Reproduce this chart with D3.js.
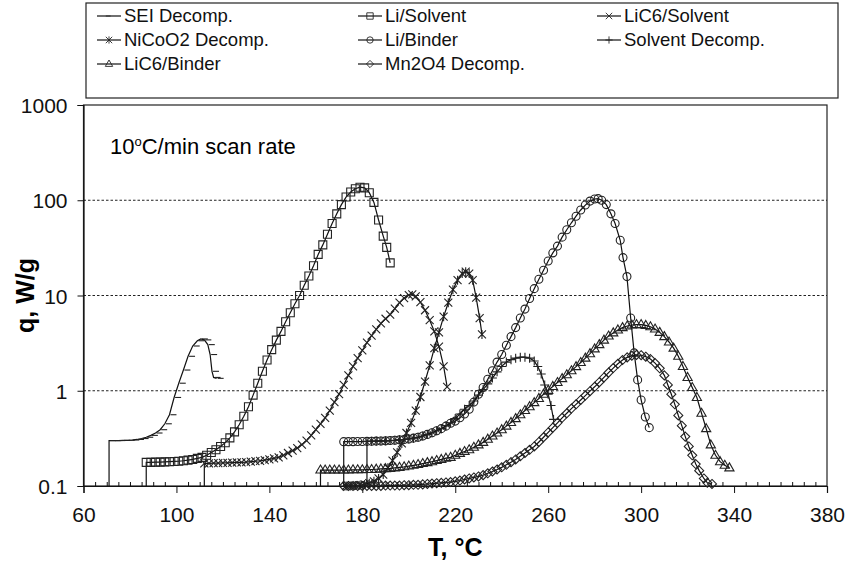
<!DOCTYPE html>
<html>
<head>
<meta charset="utf-8">
<script src="https://cdn.jsdelivr.net/npm/d3@7"></script>
<style>
  body { margin: 0; background: #fff; }
  svg { font-family: Arial, "Liberation Sans", sans-serif; }
</style>
</head>
<body>
<div id="chart"></div>
<script>
// ---- data (T in degC, q in W/g) ----
var seriesNames = ["SEI Decomp.", "Li/Solvent", "LiC6/Solvent", "NiCoO2 Decomp.",
  "Li/Binder", "Solvent Decomp.", "LiC6/Binder", "Mn2O4 Decomp."];

var xTicks = [60, 100, 140, 180, 220, 260, 300, 340, 380];
var yTicks = [0.1, 1, 10, 100, 1000];
var yTickLabels = ["0.1", "1", "10", "100", "1000"];

var seiT = [71, 73, 75, 77, 79, 81, 83, 85, 87, 89, 91, 93, 95, 97, 99, 101, 103, 105, 107, 109, 110.5, 112, 113.5, 114.5, 115.3, 116, 117.3];
var seiQ = [0.3, 0.3, 0.3, 0.301, 0.302, 0.304, 0.308, 0.315, 0.325, 0.34, 0.36, 0.39, 0.45, 0.56, 0.85, 1.2, 1.65, 2.3, 2.95, 3.35, 3.5, 3.42, 3.05, 2.4, 1.6, 1.38, 1.35];

var liSolvT = [87, 89, 91, 93, 95, 97, 99, 101, 103, 105, 107, 109, 111, 113, 115, 117, 119, 121, 123, 125, 127, 129, 131, 133, 135, 137, 139, 141, 143, 145, 147, 149, 151, 153, 155, 157, 159, 161, 163, 165, 167, 169, 171, 173, 175, 177, 179, 181, 183, 185, 187, 189, 190.5, 192];
var liSolvQ = [0.177, 0.177, 0.178, 0.178, 0.179, 0.18, 0.181, 0.182, 0.184, 0.187, 0.19, 0.195, 0.2, 0.21, 0.225, 0.24, 0.26, 0.285, 0.32, 0.37, 0.44, 0.54, 0.68, 0.9, 1.2, 1.6, 2.1, 2.7, 3.4, 4.2, 5.3, 6.6, 8.2, 10, 12.8, 16, 20.5, 27, 34, 44, 57, 72, 90, 108, 122, 132, 137, 135, 120, 95, 62, 42, 32, 22];

var lic6SolvT = [112, 114, 116, 118, 120, 122, 124, 126, 128, 130, 132, 134, 136, 138, 140, 142, 144, 146, 148, 150, 152, 154, 156, 158, 160, 162, 164, 166, 168, 170, 172, 174, 176, 178, 180, 182, 184, 186, 188, 190, 192, 194, 196, 198, 200, 201.5, 203, 205, 207, 209, 211, 213, 215, 216.5];
var lic6SolvQ = [0.173, 0.173, 0.174, 0.174, 0.175, 0.175, 0.176, 0.177, 0.177, 0.178, 0.18, 0.182, 0.184, 0.187, 0.19, 0.195, 0.2, 0.21, 0.222, 0.235, 0.25, 0.272, 0.3, 0.34, 0.39, 0.45, 0.52, 0.62, 0.76, 0.92, 1.15, 1.45, 1.8, 2.2, 2.65, 3.2, 3.8, 4.4, 5.1, 5.7, 6.3, 7.3, 8.4, 9.4, 10.1, 10.3, 9.8, 8.5, 7, 5.5, 4.2, 2.9, 1.8, 1.1];

var nicoT = [173, 175, 177, 179, 181, 183, 185, 187, 189, 191, 193, 195, 197, 199, 201, 203, 205, 207, 209, 211, 213, 215, 217, 219, 221, 223, 224.5, 226, 227.5, 229, 230.5, 231.5];
var nicoQ = [0.1, 0.1, 0.101, 0.102, 0.104, 0.107, 0.112, 0.12, 0.132, 0.155, 0.185, 0.225, 0.28, 0.36, 0.46, 0.62, 0.86, 1.25, 1.85, 2.8, 4.1, 6, 8.4, 11.5, 14.5, 17, 17.8, 17, 14.5, 9.5, 5.8, 3.9];

var liBindT = [172, 174, 176, 178, 180, 182, 184, 186, 188, 190, 192, 194, 196, 198, 200, 202, 204, 206, 208, 210, 212, 214, 216, 218, 220, 222, 224, 226, 228, 230, 232, 234, 236, 238, 240, 242, 244, 246, 248, 250, 252, 254, 256, 258, 260, 262, 264, 266, 268, 270, 272, 274, 276, 278, 280, 281.5, 283, 285, 287, 288.8, 291, 292.2, 293.9, 295.5, 297, 298.5, 300, 301.8, 303.5];
var liBindQ = [0.292, 0.292, 0.292, 0.293, 0.293, 0.294, 0.295, 0.296, 0.297, 0.298, 0.3, 0.302, 0.305, 0.308, 0.312, 0.318, 0.325, 0.335, 0.348, 0.362, 0.38, 0.4, 0.425, 0.455, 0.48, 0.52, 0.57, 0.64, 0.76, 0.92, 1.08, 1.32, 1.62, 2.0, 2.4, 3.0, 3.7, 4.6, 5.8, 7.2, 9.3, 11.8, 14.8, 18.4, 23, 28, 33, 41, 49, 58, 68, 79, 89, 98, 103, 104, 100, 90, 72, 57, 38, 25, 15.8, 5.8, 2.5, 1.3, 0.8, 0.53, 0.41];

var solvT = [182, 184, 186, 188, 190, 192, 194, 196, 198, 200, 202, 204, 206, 208, 210, 212, 214, 216, 218, 220, 222, 224, 226, 228, 230, 232, 234, 236, 238, 240, 242, 244, 246, 248, 250, 252, 254, 255.5, 257, 258.5, 260, 261.2, 262.3];
var solvQ = [0.294, 0.295, 0.296, 0.297, 0.298, 0.3, 0.302, 0.305, 0.308, 0.312, 0.318, 0.325, 0.335, 0.348, 0.362, 0.38, 0.4, 0.43, 0.46, 0.51, 0.57, 0.64, 0.7, 0.78, 0.9, 1.03, 1.18, 1.36, 1.58, 1.8, 2.0, 2.12, 2.2, 2.25, 2.25, 2.2, 2.05, 1.8, 1.5, 1.15, 0.92, 0.7, 0.5];

var lic6BindT = [162, 164, 166, 168, 170, 172, 174, 176, 178, 180, 182, 184, 186, 188, 190, 192, 194, 196, 198, 200, 202, 204, 206, 208, 210, 212, 214, 216, 218, 220, 222, 224, 226, 228, 230, 232, 234, 236, 238, 240, 242, 244, 246, 248, 250, 252, 254, 256, 258, 260, 262, 264, 266, 268, 270, 272, 274, 276, 278, 280, 282, 284, 286, 288, 290, 292, 294, 296, 298, 300, 302, 304, 306, 308, 310, 312, 314, 316, 318, 320, 322, 324, 326, 328, 330, 332, 334, 336, 338];
var lic6BindQ = [0.147, 0.147, 0.147, 0.147, 0.147, 0.147, 0.147, 0.148, 0.148, 0.148, 0.149, 0.149, 0.15, 0.151, 0.152, 0.153, 0.155, 0.157, 0.159, 0.162, 0.165, 0.168, 0.172, 0.176, 0.18, 0.185, 0.19, 0.196, 0.2, 0.21, 0.22, 0.23, 0.24, 0.255, 0.27, 0.287, 0.31, 0.335, 0.36, 0.39, 0.425, 0.465, 0.51, 0.56, 0.62, 0.68, 0.75, 0.83, 0.92, 1.01, 1.11, 1.22, 1.34, 1.47, 1.62, 1.79, 1.98, 2.2, 2.45, 2.75, 3.05, 3.4, 3.75, 4.05, 4.35, 4.6, 4.78, 4.9, 4.95, 4.95, 4.85, 4.7, 4.45, 4.1, 3.7, 3.25, 2.8, 2.3, 1.8, 1.38, 1.08, 0.85, 0.58, 0.4, 0.27, 0.21, 0.18, 0.165, 0.155];

var mnT = [172, 174, 176, 178, 180, 182, 184, 186, 188, 190, 192, 194, 196, 198, 200, 202, 204, 206, 208, 210, 212, 214, 216, 218, 220, 222, 224, 226, 228, 230, 232, 234, 236, 238, 240, 242, 244, 246, 248, 250, 252, 254, 256, 258, 260, 262, 264, 266, 268, 270, 272, 274, 276, 278, 280, 282, 284, 286, 288, 290, 292, 294, 296, 298, 300, 302, 304, 306, 308, 310, 311.5, 313, 314.5, 316, 317.5, 319, 320.5, 322, 323.5, 325, 327, 328.5, 330.5];
var mnQ = [0.1, 0.1, 0.1, 0.1, 0.1, 0.1, 0.1, 0.1, 0.1, 0.101, 0.101, 0.101, 0.101, 0.102, 0.102, 0.103, 0.103, 0.104, 0.105, 0.106, 0.107, 0.108, 0.109, 0.11, 0.112, 0.114, 0.117, 0.12, 0.123, 0.126, 0.13, 0.136, 0.142, 0.149, 0.157, 0.167, 0.178, 0.19, 0.205, 0.222, 0.24, 0.26, 0.29, 0.325, 0.365, 0.41, 0.46, 0.52, 0.58, 0.65, 0.72, 0.8, 0.89, 0.99, 1.1, 1.23, 1.38, 1.55, 1.73, 1.92, 2.1, 2.24, 2.33, 2.38, 2.36, 2.28, 2.15, 1.95, 1.72, 1.45, 1.15, 0.92, 0.72, 0.55, 0.43, 0.33, 0.26, 0.21, 0.17, 0.145, 0.12, 0.108, 0.105];

// ---- layout ----
var W = 849, H = 564;
var plot = { left: 83.5, right: 827, top: 105, bottom: 486 };

var svg = d3.select("#chart").append("svg")
  .attr("width", W).attr("height", H);

var x = d3.scaleLinear().domain([60, 380]).range([plot.left, plot.right]);
var y = d3.scaleLog().domain([0.1, 1000]).range([plot.bottom, plot.top]);

// marker shapes, centred on the point
var markerPaths = {
  dash: "M1,0H7",
  square: "M-4,-4h8v8h-8z",
  cross: "M-4,-4L4,4M-4,4L4,-4",
  star: "M-4,-4L4,4M-4,4L4,-4M0,-4.5V4.5",
  circle: "M4,0A4,4 0 1,1 -4,0A4,4 0 1,1 4,0Z",
  plus: "M-4.5,0H4.5M0,-4.5V4.5",
  triangle: "M0,-5L4.6,3L-4.6,3Z",
  diamond: "M0,-4.5L4.5,0L0,4.5L-4.5,0Z"
};

var series = [
  { name: seriesNames[0], T: seiT, q: seiQ, marker: "dash" },
  { name: seriesNames[1], T: liSolvT, q: liSolvQ, marker: "square" },
  { name: seriesNames[2], T: lic6SolvT, q: lic6SolvQ, marker: "cross" },
  { name: seriesNames[3], T: nicoT, q: nicoQ, marker: "star" },
  { name: seriesNames[4], T: liBindT, q: liBindQ, marker: "circle" },
  { name: seriesNames[5], T: solvT, q: solvQ, marker: "plus" },
  { name: seriesNames[6], T: lic6BindT, q: lic6BindQ, marker: "triangle" },
  { name: seriesNames[7], T: mnT, q: mnQ, marker: "diamond" }
];

// ---- grid, frame, axes ----
svg.append("g").selectAll("line")
  .data([1, 10, 100])
  .enter().append("line")
  .attr("x1", plot.left).attr("x2", plot.right)
  .attr("y1", function (d) { return y(d); }).attr("y2", function (d) { return y(d); })
  .attr("stroke", "#222").attr("stroke-width", 1).attr("stroke-dasharray", "2.5,2");

svg.append("rect")
  .attr("x", plot.left).attr("y", plot.top)
  .attr("width", plot.right - plot.left).attr("height", plot.bottom - plot.top)
  .attr("fill", "none").attr("stroke", "#222").attr("stroke-width", 1.2);

var xMinor = d3.range(60, 381, 5).filter(function (d) { return xTicks.indexOf(d) < 0; });

svg.append("g").attr("transform", "translate(0," + plot.bottom + ")")
  .call(d3.axisBottom(x).tickValues(xMinor).tickSize(-4).tickFormat(""))
  .call(function (g) { g.select(".domain").remove(); });

var xAxis = svg.append("g").attr("transform", "translate(0," + plot.bottom + ")")
  .call(d3.axisBottom(x).tickValues(xTicks).tickSize(7).tickPadding(14).tickFormat(d3.format("d")));
xAxis.select(".domain").attr("stroke", "#111").attr("stroke-width", 1.2);
xAxis.selectAll("text").style("font-size", "21px").attr("fill", "#111");

var yAxis = svg.append("g").attr("transform", "translate(" + plot.left + ",0)")
  .call(d3.axisLeft(y).tickValues(yTicks).tickSize(6).tickPadding(10)
    .tickFormat(function (d, i) { return yTickLabels[i]; }));
yAxis.select(".domain").attr("stroke", "#111").attr("stroke-width", 1.2);
yAxis.selectAll("text").style("font-size", "21px").attr("fill", "#111").attr("dy", "0.36em");

svg.selectAll(".tick line").attr("stroke", "#111");

svg.append("text")
  .attr("transform", "translate(" + ((plot.left + plot.right) / 2) + ",556)")
  .attr("text-anchor", "middle")
  .style("font-size", "25px").style("font-weight", "bold")
  .text("T, °C");

svg.append("text")
  .attr("transform", "translate(34," + ((plot.top + plot.bottom) / 2) + ") rotate(-90)")
  .attr("text-anchor", "middle")
  .style("font-size", "25px").style("font-weight", "bold")
  .text("q, W/g");

var note = svg.append("text").attr("x", 110).attr("y", 154).style("font-size", "22px");
note.append("tspan").text("10");
note.append("tspan").attr("dy", -8).style("font-size", "13px").text("o");
note.append("tspan").attr("dy", 8).text("C/min scan rate");

// ---- series ----
var line = d3.line()
  .x(function (d) { return x(d[0]); })
  .y(function (d) { return y(d[1]); });

series.forEach(function (s) {
  var pts = s.T.map(function (t, i) { return [t, s.q[i]]; });
  // the curve rises from the axis floor at its onset temperature
  var path = [[s.T[0], y.domain()[0]]].concat(pts);
  var g = svg.append("g");
  g.append("path").datum(path)
    .attr("fill", "none").attr("stroke", "#111").attr("stroke-width", 1.2)
    .attr("d", line);
  g.selectAll("path.m").data(pts).enter().append("path")
    .attr("class", "m")
    .attr("d", markerPaths[s.marker])
    .attr("transform", function (d) { return "translate(" + x(d[0]) + "," + y(d[1]) + ")"; })
    .attr("fill", "none").attr("stroke", "#222").attr("stroke-width", 1.1);
});

// ---- legend ----
svg.append("rect")
  .attr("x", 86).attr("y", 3).attr("width", 752).attr("height", 95)
  .attr("fill", "#fff").attr("stroke", "#222").attr("stroke-width", 1.2);

var legCols = [97, 358, 597], legRows = [16, 40, 64];
var leg = svg.append("g").selectAll("g")
  .data(series)
  .enter().append("g")
  .attr("transform", function (d, i) {
    return "translate(" + legCols[i % 3] + "," + legRows[Math.floor(i / 3)] + ")";
  });
leg.append("line").attr("x1", 0).attr("x2", 24).attr("stroke", "#111").attr("stroke-width", 1.2);
leg.append("path")
  .attr("d", function (d) { return markerPaths[d.marker]; })
  .attr("transform", function (d) { return "translate(" + (d.marker === "dash" ? 8 : 12) + ",0) scale(0.8)"; })
  .attr("fill", "none").attr("stroke", "#222").attr("stroke-width", 1.1);
leg.append("text").attr("x", 27).attr("dy", "0.35em")
  .style("font-size", "18.5px").attr("fill", "#111")
  .text(function (d) { return d.name; });
</script>
</body>
</html>
